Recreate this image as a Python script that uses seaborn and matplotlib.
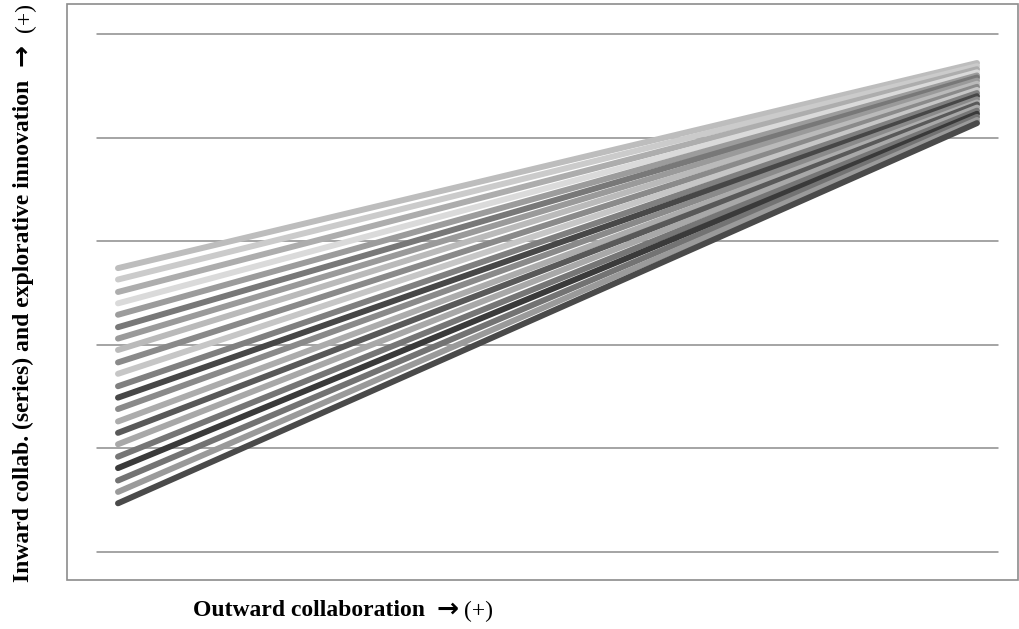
import pandas as pd
import matplotlib.pyplot as plt
import matplotlib.patches as patches
import seaborn as sns

# Outward collaboration levels (low -> high)
outward = [0, 1]

# Explorative innovation at low / high outward collaboration, one pair per series
low_values = [2.74, 2.63, 2.51, 2.40, 2.29, 2.17, 2.06, 1.95, 1.83, 1.72, 1.60,
              1.49, 1.38, 1.26, 1.15, 1.04, 0.92, 0.81, 0.69, 0.58, 0.47]
high_values = [4.72, 4.69, 4.66, 4.63, 4.60, 4.58, 4.55, 4.52, 4.49, 4.46, 4.43,
               4.40, 4.37, 4.34, 4.32, 4.29, 4.26, 4.23, 4.20, 4.17, 4.14]

series_names = ["S%d" % (i + 1) for i in range(len(low_values))]

# grey shades for each series
series_colors = ["#bdbdbd", "#cbcbcb", "#adadad", "#dadada", "#9c9c9c", "#787878",
                 "#9a9a9a", "#bababa", "#8a8a8a", "#c6c6c6", "#808080", "#474747",
                 "#8a8a8a", "#acacac", "#595959", "#a8a8a8", "#767676", "#3a3a3a",
                 "#737373", "#9a9a9a", "#4a4a4a"]

y_grid = [0, 1, 2, 3, 4, 5]

rows = []
for name, lo, hi in zip(series_names, low_values, high_values):
    rows.append({"series": name, "outward": outward[0], "innovation": lo})
    rows.append({"series": name, "outward": outward[1], "innovation": hi})
df = pd.DataFrame(rows)

sns.set_style("white")
plt.rcParams["font.family"] = ["Liberation Serif", "DejaVu Serif"]
plt.rcParams["text.color"] = "black"

fig = plt.figure(figsize=(10.2, 6.29), dpi=100)
ax = fig.add_axes([97 / 1020, 1 - 552 / 629, 901 / 1020, 518 / 629])

# horizontal gridlines
for y in y_grid:
    ax.axhline(y, color="#8c8c8c", lw=1.1, clip_on=False, zorder=0)

sns.lineplot(data=df, x="outward", y="innovation", hue="series",
             hue_order=series_names, palette=series_colors, linewidth=4.3,
             legend=False, ax=ax, solid_capstyle="round", zorder=2)

pad = 21 / 859
ax.set_xlim(-pad, 1 + pad)
ax.set_ylim(0, 5)
ax.set_xticks([])
ax.set_yticks([])
ax.set_xlabel("")
ax.set_ylabel("")
for s in ax.spines.values():
    s.set_visible(False)
ax.patch.set_alpha(0)

# plot area border
fig.patches.append(patches.Rectangle((67 / 1020, 1 - 580 / 629), 951 / 1020, 576 / 629,
                                     transform=fig.transFigure, fill=False,
                                     edgecolor="#8c8c8c", lw=1.2))

# x axis title
fig.text(193 / 1020, 1 - 611 / 629, "Outward collaboration", fontsize=17,
         fontweight="bold", ha="left", va="center")
fig.text(437 / 1020, 1 - 610 / 629, "\u2192", fontsize=19, fontweight="bold",
         family="DejaVu Sans", ha="left", va="center")
fig.text(464 / 1020, 1 - 611 / 629, "(+)", fontsize=17, ha="left", va="center")

# y axis title
fig.text(23 / 1020, 1 - 582 / 629, "Inward collab. (series) and explorative innovation",
         fontsize=17, fontweight="bold", rotation=90, ha="center", va="bottom")
fig.text(22 / 1020, 1 - 55 / 629, "\u2192", fontsize=19, fontweight="bold",
         family="DejaVu Sans", rotation=90, ha="center", va="center")
fig.text(25 / 1020, 1 - 17 / 629, "(+)", fontsize=17, rotation=90,
         ha="center", va="center")

fig.savefig("out.png", dpi=100)
